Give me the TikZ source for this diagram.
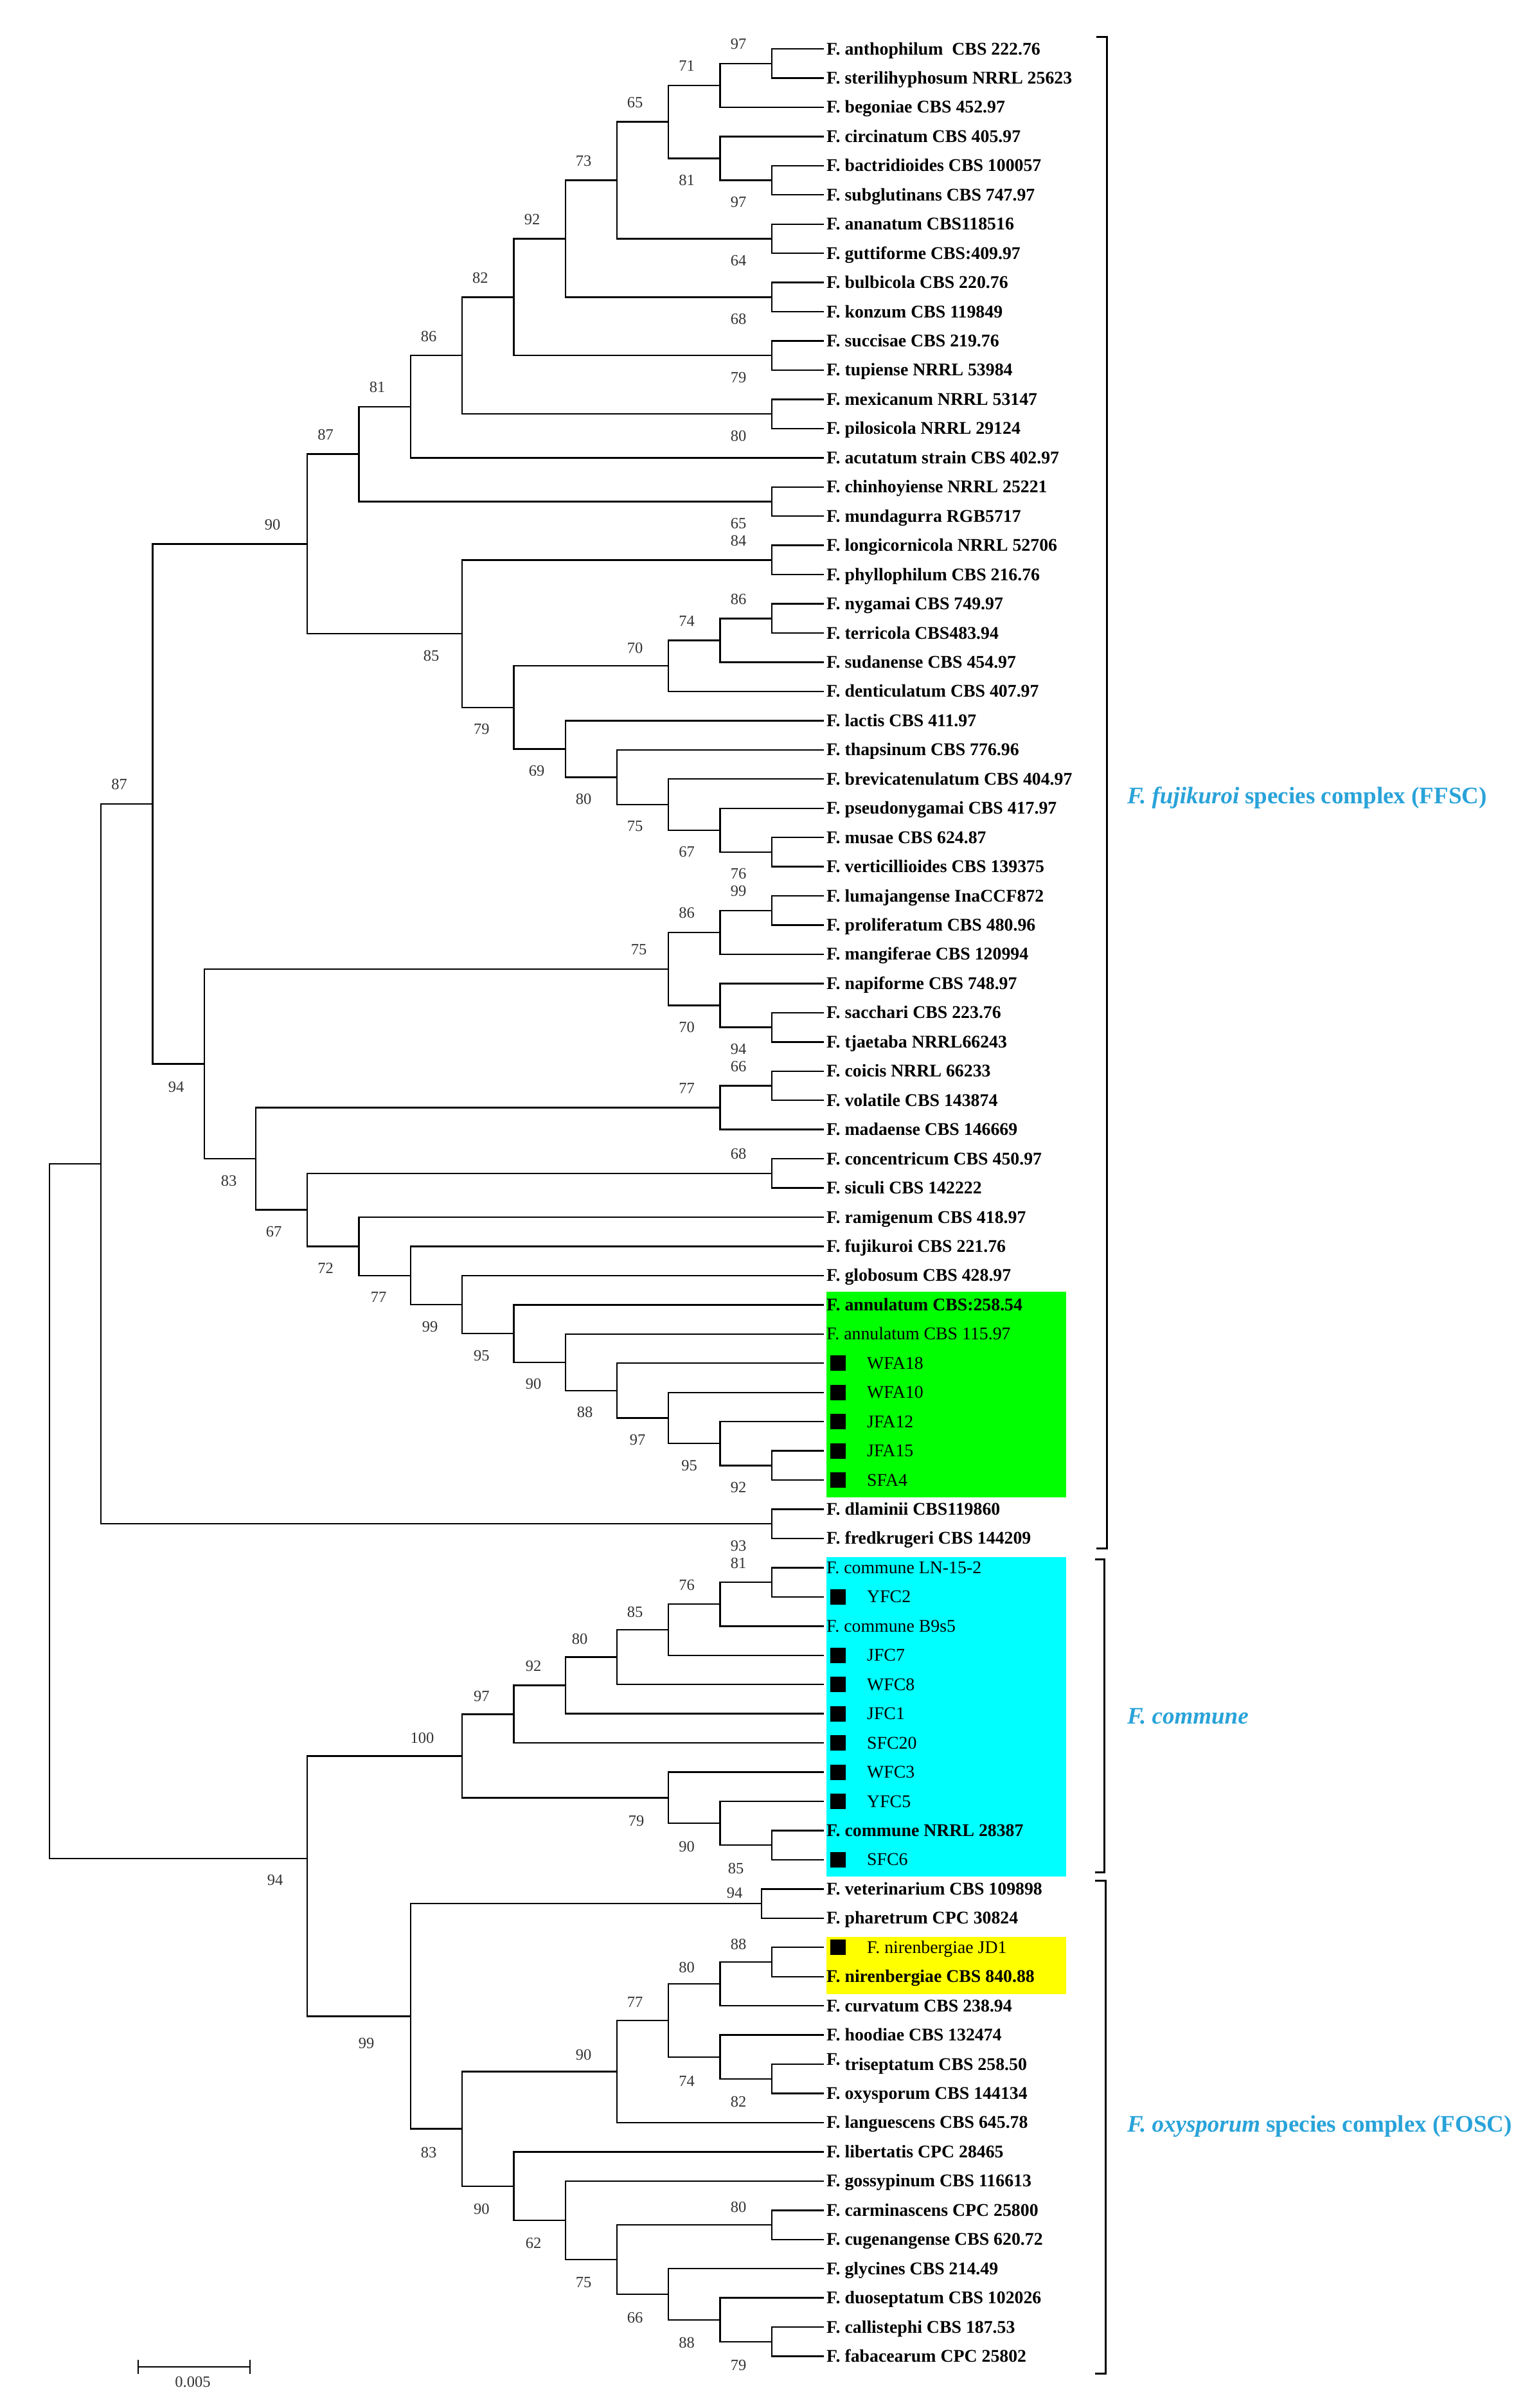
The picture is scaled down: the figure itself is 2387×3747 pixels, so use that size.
\documentclass[tikz,border=0pt]{standalone}
\usepackage{fontspec}
\setmainfont{Liberation Serif}
\definecolor{cladeblue}{RGB}{41,163,217}
\definecolor{hlgreen}{RGB}{0,255,0}
\definecolor{hlcyan}{RGB}{0,255,255}
\definecolor{hlyellow}{RGB}{255,255,0}
\begin{document}
\begin{tikzpicture}[x=1pt,y=-1pt,
  branch/.style={draw=black,line width=2.4pt,line cap=rect},
  lb/.style={anchor=base west,inner sep=0pt,font=\fontsize{27.8}{30}\selectfont\bfseries},
  lr/.style={anchor=base west,inner sep=0pt,font=\fontsize{27.8}{30}\selectfont},
  lm/.style={lr,xshift=63pt},
  bs/.style={inner sep=0pt,text=black!80,font=\fontsize{24.5}{26}\selectfont},
  marker/.style={fill=black,minimum size=24pt,inner sep=0pt},
  clade/.style={anchor=west,inner sep=0pt,text=cladeblue,font=\fontsize{37}{40}\selectfont\bfseries},
  brk/.style={draw=black,line width=3pt},
  scalebar/.style={draw=black,line width=2pt}
]
\fill[white] (0,0) rectangle (2387,3747);
\useasboundingbox (0,0) rectangle (2387,3747);

% highlight boxes
\fill[hlgreen] (1286,2010) rectangle (1659,2330);
\fill[hlcyan] (1286,2423) rectangle (1659,2920);
\fill[hlyellow] (1286,3014) rectangle (1659,3103);

% leaf tips
\foreach \i in {1,...,80} \coordinate (l\i) at (1281,{76+45.45*(\i-1)});

% bold labels
\foreach \i/\t in {
 1/{F. anthophilum\ \ CBS 222.76},
 2/{F. sterilihyphosum NRRL 25623},
 3/{F. begoniae CBS 452.97},
 4/{F. circinatum CBS 405.97},
 5/{F. bactridioides CBS 100057},
 6/{F. subglutinans CBS 747.97},
 7/{F. ananatum CBS118516},
 8/{F. guttiforme CBS:409.97},
 9/{F. bulbicola CBS 220.76},
 10/{F. konzum CBS 119849},
 11/{F. succisae CBS 219.76},
 12/{F. tupiense NRRL 53984},
 13/{F. mexicanum NRRL 53147},
 14/{F. pilosicola NRRL 29124},
 15/{F. acutatum strain CBS 402.97},
 16/{F. chinhoyiense NRRL 25221},
 17/{F. mundagurra RGB5717},
 18/{F. longicornicola NRRL 52706},
 19/{F. phyllophilum CBS 216.76},
 20/{F. nygamai CBS 749.97},
 21/{F. terricola CBS483.94},
 22/{F. sudanense CBS 454.97},
 23/{F. denticulatum CBS 407.97},
 24/{F. lactis CBS 411.97},
 25/{F. thapsinum CBS 776.96},
 26/{F. brevicatenulatum CBS 404.97},
 27/{F. pseudonygamai CBS 417.97},
 28/{F. musae CBS 624.87},
 29/{F. verticillioides CBS 139375},
 30/{F. lumajangense InaCCF872},
 31/{F. proliferatum CBS 480.96},
 32/{F. mangiferae CBS 120994},
 33/{F. napiforme CBS 748.97},
 34/{F. sacchari CBS 223.76},
 35/{F. tjaetaba NRRL66243},
 36/{F. coicis NRRL 66233},
 37/{F. volatile CBS 143874},
 38/{F. madaense CBS 146669},
 39/{F. concentricum CBS 450.97},
 40/{F. siculi CBS 142222},
 41/{F. ramigenum CBS 418.97},
 42/{F. fujikuroi CBS 221.76},
 43/{F. globosum CBS 428.97},
 44/{F. annulatum CBS:258.54},
 51/{F. dlaminii CBS119860},
 52/{F. fredkrugeri CBS 144209},
 62/{F. commune NRRL 28387},
 64/{F. veterinarium CBS 109898},
 65/{F. pharetrum CPC 30824},
 67/{F. nirenbergiae CBS 840.88},
 68/{F. curvatum CBS 238.94},
 69/{F. hoodiae CBS 132474},
 70/{\raisebox{8pt}{F.} triseptatum CBS 258.50},
 71/{F. oxysporum CBS 144134},
 72/{F. languescens CBS 645.78},
 73/{F. libertatis CPC 28465},
 74/{F. gossypinum CBS 116613},
 75/{F. carminascens CPC 25800},
 76/{F. cugenangense CBS 620.72},
 77/{F. glycines CBS 214.49},
 78/{F. duoseptatum CBS 102026},
 79/{F. callistephi CBS 187.53},
 80/{F. fabacearum CPC 25802}}
 \node[lb] (t\i) at (1286,{85+45.45*(\i-1)}) {\t};

% regular labels
\foreach \i/\t in {45/{F. annulatum CBS 115.97},53/{F. commune LN-15-2},55/{F. commune B9s5}}
 \node[lr] (t\i) at (1286,{85+45.45*(\i-1)}) {\t};

% marked isolates
\foreach \i/\t in {46/WFA18,47/WFA10,48/JFA12,49/JFA15,50/SFA4,54/YFC2,56/JFC7,57/WFC8,
 58/JFC1,59/SFC20,60/WFC3,61/YFC5,63/SFC6,66/{F. nirenbergiae JD1}}{
 \node[marker] (m\i) at (1304,{76+45.45*(\i-1)}) {};
 \node[lm] (t\i) at (1286,{85+45.45*(\i-1)}) {\t};
}

% internal nodes
\coordinate (nA1) at (1201,98.7);
\coordinate (nA2) at (1120.5,132.8);
\coordinate (nA3) at (1201,280.5);
\coordinate (nA4) at (1120.5,246.4);
\coordinate (nA5) at (1040,189.6);
\coordinate (nA6) at (1201,371.4);
\coordinate (nA7) at (960,280.5);
\coordinate (nA8) at (1201,462.3);
\coordinate (nA9) at (880,371.4);
\coordinate (nA10) at (1201,553.2);
\coordinate (nA11) at (799.4,462.3);
\coordinate (nA12) at (1201,644.1);
\coordinate (nA13) at (719,553.2);
\coordinate (nA14) at (639,632.75);
\coordinate (nA15) at (1201,780.5);
\coordinate (nA16) at (558.6,706.6);
\coordinate (nB1) at (1201,871.4);
\coordinate (nB2) at (1201,962.3);
\coordinate (nB3) at (1120.5,996.4);
\coordinate (nB4) at (1040,1036.1);
\coordinate (nB5) at (1201,1325.9);
\coordinate (nB6) at (1120.5,1291.8);
\coordinate (nB7) at (1040,1252);
\coordinate (nB8) at (960,1209.4);
\coordinate (nB9) at (880,1165.4);
\coordinate (nB10) at (799.4,1100.75);
\coordinate (nB11) at (719,986.1);
\coordinate (nB12) at (478,846.35);
\coordinate (nC1) at (1201,1416.8);
\coordinate (nC2) at (1120.5,1450.9);
\coordinate (nC3) at (1201,1598.6);
\coordinate (nC4) at (1120.5,1564.5);
\coordinate (nC5) at (1040,1507.7);
\coordinate (nC6) at (1201,1689.5);
\coordinate (nC7) at (1120.5,1723.6);
\coordinate (nC8) at (1201,1825.8);
\coordinate (nD1) at (1201,2280.3);
\coordinate (nD2) at (1120.5,2246.2);
\coordinate (nD3) at (1040,2206.45);
\coordinate (nD4) at (960,2163.85);
\coordinate (nD5) at (880,2119.8);
\coordinate (nD6) at (799.4,2075.1);
\coordinate (nD7) at (719,2030);
\coordinate (nD8) at (639,1984.7);
\coordinate (nD9) at (558.6,1939.35);
\coordinate (nD10) at (478,1882.6);
\coordinate (nD11) at (398,1803.1);
\coordinate (nD12) at (318,1655.4);
\coordinate (nD13) at (237.5,1250.9);
\coordinate (nD14) at (1201,2371.2);
\coordinate (nE1) at (157,1811);
\coordinate (nF1) at (1201,2462.1);
\coordinate (nF2) at (1120.5,2496.2);
\coordinate (nF3) at (1040,2536);
\coordinate (nF4) at (960,2578.6);
\coordinate (nF5) at (880,2622.6);
\coordinate (nF6) at (799.4,2667.35);
\coordinate (nF7) at (1201,2871.2);
\coordinate (nF8) at (1120.5,2837.1);
\coordinate (nF9) at (1040,2797.3);
\coordinate (nF10) at (719,2732.3);
\coordinate (nG1) at (1185,2962.1);
\coordinate (nG2) at (1201,3053);
\coordinate (nG3) at (1120.5,3087.1);
\coordinate (nG4) at (1201,3234.8);
\coordinate (nG5) at (1120.5,3200.7);
\coordinate (nG6) at (1040,3143.9);
\coordinate (nG7) at (960,3223.4);
\coordinate (nG8) at (1201,3462);
\coordinate (nG9) at (1201,3643.8);
\coordinate (nG10) at (1120.5,3609.7);
\coordinate (nG11) at (1040,3570);
\coordinate (nG12) at (960,3516);
\coordinate (nG13) at (880,3454.9);
\coordinate (nG14) at (799.4,3401.7);
\coordinate (nG15) at (719,3312.55);
\coordinate (nG16) at (639,3137.3);
\coordinate (nH) at (478,2892);
\coordinate (root) at (77,2351.5);

% branches
\foreach \p/\c in {
 nA1/l1,nA1/l2,nA2/nA1,nA2/l3,nA3/l5,nA3/l6,nA4/l4,nA4/nA3,nA5/nA2,nA5/nA4,
 nA6/l7,nA6/l8,nA7/nA5,nA7/nA6,nA8/l9,nA8/l10,nA9/nA7,nA9/nA8,nA10/l11,nA10/l12,
 nA11/nA9,nA11/nA10,nA12/l13,nA12/l14,nA13/nA11,nA13/nA12,nA14/nA13,nA14/l15,
 nA15/l16,nA15/l17,nA16/nA14,nA16/nA15,
 nB1/l18,nB1/l19,nB2/l20,nB2/l21,nB3/nB2,nB3/l22,nB4/nB3,nB4/l23,nB5/l28,nB5/l29,
 nB6/l27,nB6/nB5,nB7/l26,nB7/nB6,nB8/l25,nB8/nB7,nB9/l24,nB9/nB8,nB10/nB4,nB10/nB9,
 nB11/nB1,nB11/nB10,nB12/nA16,nB12/nB11,
 nC1/l30,nC1/l31,nC2/nC1,nC2/l32,nC3/l34,nC3/l35,nC4/l33,nC4/nC3,nC5/nC2,nC5/nC4,
 nC6/l36,nC6/l37,nC7/nC6,nC7/l38,nC8/l39,nC8/l40,
 nD1/l49,nD1/l50,nD2/l48,nD2/nD1,nD3/l47,nD3/nD2,nD4/l46,nD4/nD3,nD5/l45,nD5/nD4,
 nD6/l44,nD6/nD5,nD7/l43,nD7/nD6,nD8/l42,nD8/nD7,nD9/l41,nD9/nD8,nD10/nC8,nD10/nD9,
 nD11/nC7,nD11/nD10,nD12/nC5,nD12/nD11,nD13/nB12,nD13/nD12,nD14/l51,nD14/l52,
 nE1/nD13,nE1/nD14,
 nF1/l53,nF1/l54,nF2/nF1,nF2/l55,nF3/nF2,nF3/l56,nF4/nF3,nF4/l57,nF5/nF4,nF5/l58,
 nF6/nF5,nF6/l59,nF7/l62,nF7/l63,nF8/l61,nF8/nF7,nF9/l60,nF9/nF8,nF10/nF6,nF10/nF9,
 nG1/l64,nG1/l65,nG2/l66,nG2/l67,nG3/nG2,nG3/l68,nG4/l70,nG4/l71,nG5/l69,nG5/nG4,
 nG6/nG3,nG6/nG5,nG7/nG6,nG7/l72,nG8/l75,nG8/l76,nG9/l79,nG9/l80,nG10/l78,nG10/nG9,
 nG11/l77,nG11/nG10,nG12/nG8,nG12/nG11,nG13/l74,nG13/nG12,nG14/l73,nG14/nG13,
 nG15/nG7,nG15/nG14,nG16/nG1,nG16/nG15,nH/nF10,nH/nG16,
 root/nE1,root/nH}
 \draw[branch] (\p) |- (\c);

% bootstrap values
\foreach \n/\v/\dx/\dy in {
 nA1/97/-52/-30,nA2/71/-52/-30,nA3/97/-52/34,nA4/81/-52/34,nA5/65/-52/-30,
 nA6/64/-52/34,nA7/73/-52/-30,nA8/68/-52/34,nA9/92/-52/-30,nA10/79/-52/34,
 nA11/82/-52/-30,nA12/80/-52/34,nA13/86/-52/-30,nA14/81/-52/-30,nA15/65/-52/34,
 nA16/87/-52/-30,
 nB1/84/-52/-30,nB2/86/-52/-30,nB3/74/-52/-30,nB4/70/-52/-28,nB5/76/-52/34,
 nB6/67/-52/34,nB7/75/-52/34,nB8/80/-52/34,nB9/69/-45/34,nB10/79/-50/34,
 nB11/85/-48/34,nB12/90/-54/-30,
 nC1/99/-52/-30,nC2/86/-52/-30,nC3/94/-52/34,nC4/70/-52/34,nC5/75/-46/-30,
 nC6/66/-52/-30,nC7/77/-52/-30,nC8/68/-52/-30,
 nD1/92/-52/34,nD2/95/-48/34,nD3/97/-48/34,nD4/88/-50/34,nD5/90/-50/34,
 nD6/95/-50/34,nD7/99/-50/34,nD8/77/-50/34,nD9/72/-52/34,nD10/67/-52/34,
 nD11/83/-42/34,nD12/94/-44/36,nD13/87/-52/-30,nD14/93/-52/34,
 nF1/81/-52/-30,nF2/76/-52/-30,nF3/85/-52/-28,nF4/80/-58/-28,nF5/92/-50/-30,
 nF6/97/-50/-28,nF7/85/-56/36,nF8/90/-52/36,nF9/79/-50/36,nF10/100/-62/-28,
 nG1/94/-42/-17,nG2/88/-52/-28,nG3/80/-52/-26,nG4/82/-52/36,nG5/74/-52/38,
 nG6/77/-52/-28,nG7/90/-52/-26,nG8/80/-52/-28,nG9/79/-52/37,nG10/88/-52/36,
 nG11/66/-52/36,nG12/75/-52/36,nG13/62/-50/36,nG14/90/-50/36,nG15/83/-52/37,
 nG16/99/-69/42,nH/94/-50/33}
 \node[bs] (b\n) at ([shift={(\dx,\dy)}]\n) {\v};

% clade brackets
\draw[brk] (1706,58) -- (1722,58) -- (1722,2409) -- (1706,2409);
\draw[brk] (1704,2426) -- (1718,2426) -- (1718,2913) -- (1704,2913);
\draw[brk] (1704,2926) -- (1720,2926) -- (1720,3693) -- (1704,3693);

% clade labels
\node[clade] (cFFSC) at (1754,1241) {\textit{F. fujikuroi} species complex (FFSC)};
\node[clade] (cFC) at (1754,2671) {\textit{F. commune}};
\node[clade] (cFOSC) at (1754,3309) {\textit{F. oxysporum} species complex (FOSC)};

% scale bar
\coordinate (sb1) at (215,3683);
\coordinate (sb2) at (389,3683);
\draw[scalebar] (sb1) -- (sb2);
\draw[scalebar] ([yshift=11pt]sb1) -- ([yshift=-11pt]sb1);
\draw[scalebar] ([yshift=11pt]sb2) -- ([yshift=-11pt]sb2);
\node[bs] (sbl) at (300,3706) {0.005};
\end{tikzpicture}
\end{document}
